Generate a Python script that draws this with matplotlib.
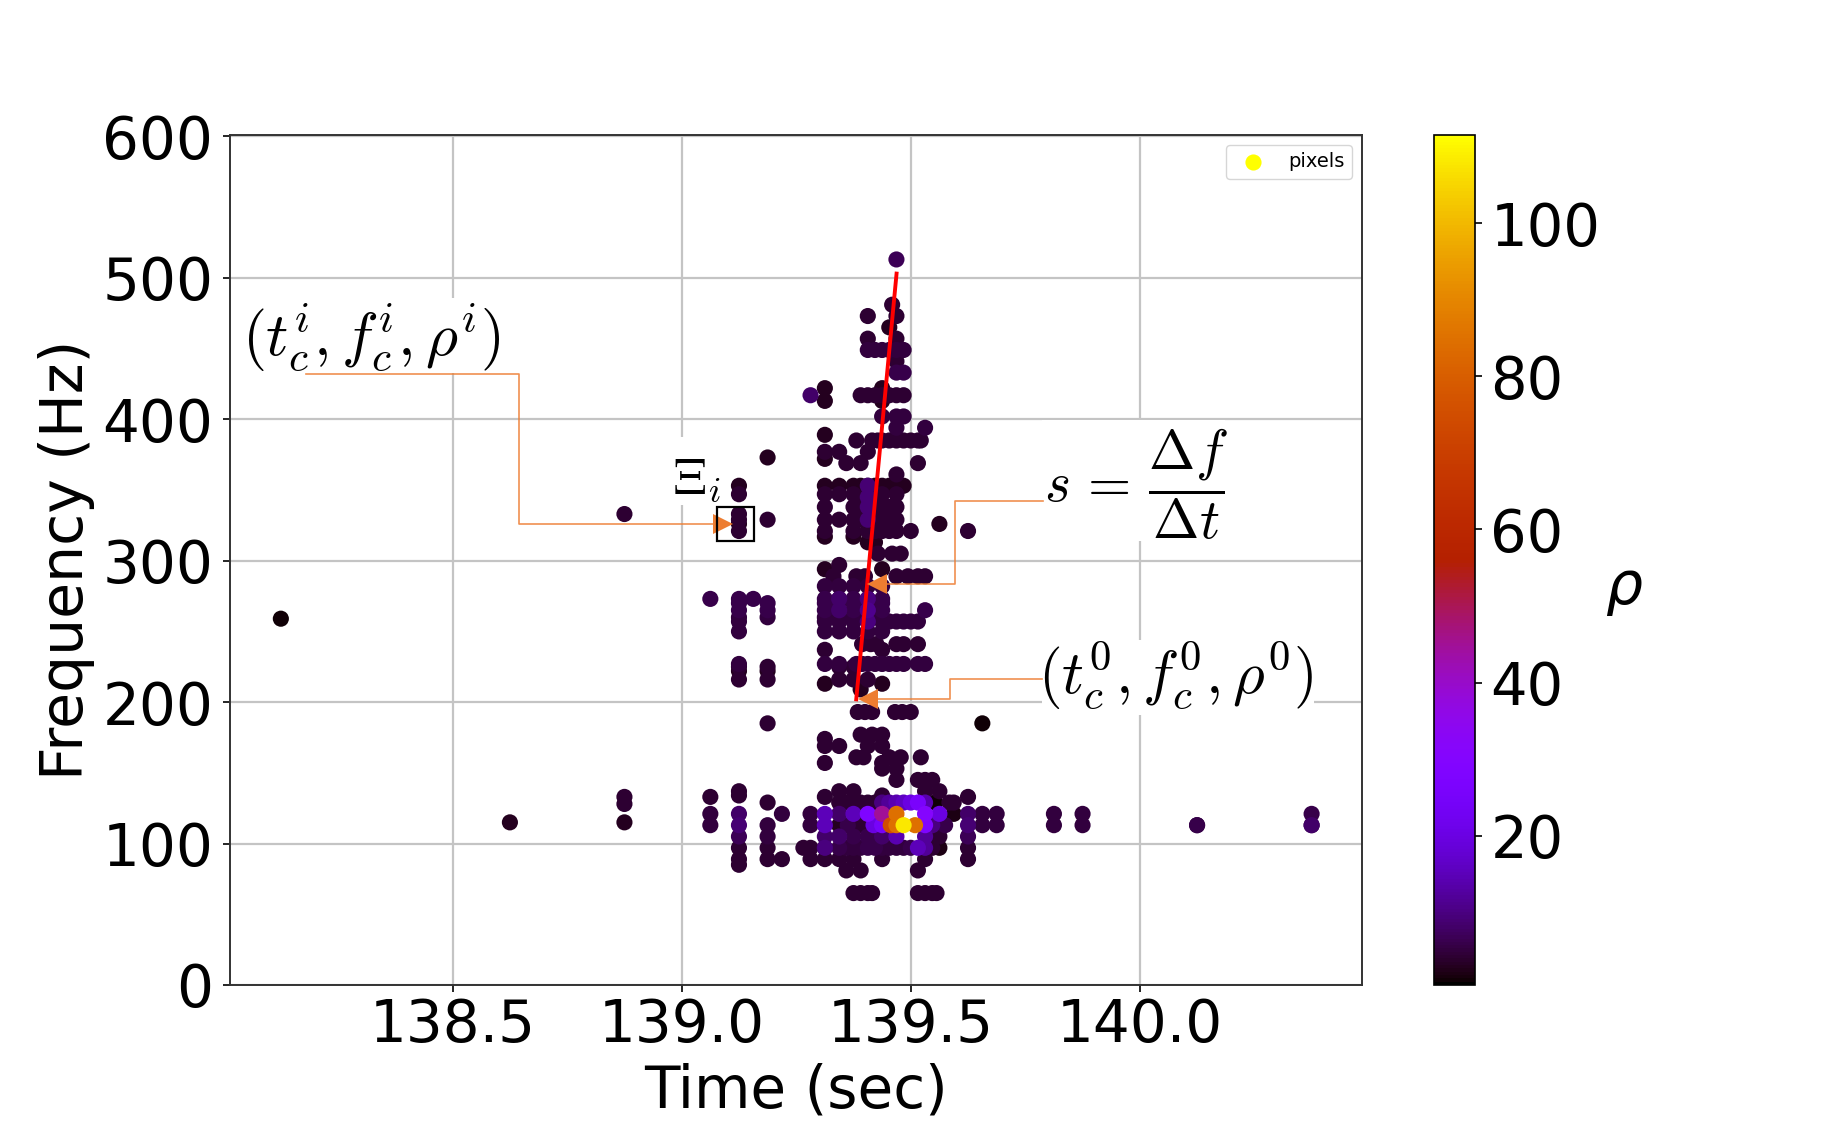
"""Time-frequency pixels with slope annotations"""
import numpy as np
import matplotlib
matplotlib.use("Agg")
import matplotlib.pyplot as plt
from matplotlib.patches import Polygon, Rectangle

plt.rcParams['mathtext.fontset'] = 'cm'

W, H = 1828, 1125

# time bins are 1/32 s wide, counted from 139.0 s
T_REF = 139.0
BIN = 32.0

# one entry per frequency row: frequency [Hz], time bins in that row, rho
freq_upper = [513, 481, 473, 465, 457, 449, 441, 433, 422, 417, 417, 413, 402,
              394, 389, 385, 377, 373, 372, 369, 361]
bins_upper = [[15], [14.7], [13, 15], [14.5], [13, 15],
              [13, 13.5, 14, 14.5, 15, 15.5], [15], [15, 15.5], [10, 14], [9],
              [12.5, 13, 13.5, 14, 14.5, 15, 15.5], [10, 14], [14, 15, 15.5],
              [15, 17], [10],
              [12.2, 13.3, 13.7, 14, 14.5, 15, 15.5, 16, 16.5, 16.7],
              [10, 11, 13], [6], [10], [11.5, 12.5, 16.5], [15]]
rho_upper = [7, 4, 4, 3, 4, 5, 4, 6, 3, 8, 4, 3, 5, 5, 3, 4, 4, 3, 3, 4, 4]

freq_mid = [353, 347, 338, 333, 329, 326, 321, 317, 313, 305, 297, 294, 289,
            282, 273, 270, 265, 260, 257, 250, 241, 237, 227, 225, 222, 216,
            213, 209, 193, 185]
bins_mid = [[4, 10, 11, 12, 12.5, 13, 13.5, 14, 14.5, 15, 15.5],
            [4, 10, 11, 12, 13, 14, 15],
            [10, 12, 12.5, 13, 13.5, 14, 14.5, 15],
            [-4, 4], [4, 6, 10, 11, 12, 12.5, 13, 13.5, 14, 14.5, 15], [4, 18],
            [4, 10, 12, 13, 13.5, 14, 14.5, 15, 16, 20], [10, 12], [13, 13.5],
            [13.7, 14.7, 15.3], [11], [10, 14],
            [10.6, 12.2, 12.8, 15, 15.8, 16.5, 17],
            [10, 11, 12, 13, 14], [2, 4, 5, 10, 11, 12, 13, 14],
            [4, 6, 10, 11, 12, 13, 14], [4, 6, 10, 11, 12, 13, 14, 17],
            [4, 6, 10, 11, 12, 13, 14],
            [4, 10, 11, 12, 13, 14, 14.5, 15, 15.5, 16, 16.5],
            [4, 10, 11, 12, 13, 14], [12.6, 13.2, 13.6, 15, 15.5, 16.5], [10, 14],
            [4, 10, 11, 12.2, 12.6, 13, 13.5, 14, 14.5, 15, 15.5, 16.5, 17],
            [4, 6, 11, 12], [4, 6], [4, 6, 11, 12, 13], [10, 14], [12.5],
            [12.3, 12.8, 13.3, 14.9, 15.4, 16],
            [6]]
rho_mid = [3, 4, 4, 4, 4, 3, 4, 3, 3, 4, 4, 3, 4, 5, 6, 6, 6, 5, 5, 5, 4,
           4, 5, 4, 3, 4, 3, 3, 4, 4]

freq_low = [185, 177, 174, 169, 161, 157, 153, 145, 137, 134, 133, 129, 128,
            121, 115, 113, 105, 97, 89, 85, 81, 65]
bins_low = [[21], [12.5, 13.3, 14], [10], [10, 11, 13, 14],
            [12.2, 12.7, 14.5, 15.3, 16.7], [10, 14], [14, 15], [15, 16.5, 17, 17.5],
            [4, 11, 12, 17, 18], [4, 14], [-4, 2, 10, 20],
            [6, 11, 11.5, 12, 12.5, 13, 13.5, 18.7, 19],
            [-4], [2, 7, 9, 21, 22, 26, 28], [-4, -12],
            [2, 6, 9, 21, 22, 26, 28, 36, 44], [6],
            [4, 6, 8.5, 9, 10, 20], [4, 6, 7, 9, 10, 11, 12, 14, 17, 20],
            [4], [11.5, 12.5, 16.5], [12, 12.5, 13, 13.3, 16.5, 17, 17.5, 17.8]]
rho_low = [1, 4, 4, 4, 4, 4, 4, 4, 4, 4, 4, 4, 4, 5, 3, 5, 5, 4, 4, 4, 4, 4]

# isolated pixels far from the cluster
t_far = [138.125, 140.125, 140.375, 140.375]
f_far = [259, 113, 121, 113]
rho_far = [1, 6, 6, 8]

# purple tinted pixels inside the track and the two side columns
bins_tint = [11, 11, 13, 13, 13, 13, 13, 13, 13, 4, 4, 20, 20, 20]
f_tint = [273, 265, 273, 265, 257, 353, 345, 338, 329, 121, 105, 121, 113, 105]
rho_tint = [8, 8, 10, 11, 10, 9, 9, 9, 9, 8, 7, 8, 9, 7]

# the loud core around 113 Hz, row by row
bins_core = [14, 14.5, 15, 15.5, 16, 16.5, 17, 17.7,
             10, 11, 12, 13, 14, 15, 17, 18, 19,
             4, 10, 11, 11.6, 12.5, 13.4, 14, 14.6, 15, 15.5, 16.3, 17, 17.5, 18.4,
             10, 11, 12, 13, 14, 15, 17, 18,
             10, 11, 11.5, 12, 12.5, 13, 13.5, 14, 14.5, 15, 15.5, 16, 16.5, 17, 17.5, 18]
f_core = [129, 129, 129, 129, 129, 129, 129, 129,
          121, 121, 121, 121, 121, 121, 121, 121, 121,
          113, 113, 113, 113, 113, 113, 113, 113, 113, 113, 113, 113, 113, 113,
          105, 105, 105, 105, 105, 105, 105, 105,
          97, 97, 97, 97, 97, 97, 97, 97, 97, 97, 97, 97, 97, 97, 97, 97]
rho_core = [10, 12, 14, 16, 20, 26, 14, 1,
            15, 8, 15, 28, 45, 85, 30, 20, 2,
            9, 15, 3, 6, 4, 20, 25, 75, 85, 108, 85, 28, 10, 6,
            8, 8, 6, 6, 8, 14, 12, 4,
            10, 6, 5, 5, 5, 6, 6, 5, 5, 5, 5, 6, 15, 12, 4, 2]

# straight fit through the track
fit_t = [139.381, 139.469]
fit_f = [202, 503]


def flatten(freqs, bins, rhos):
    ts, fs, rs = [], [], []
    for f, b, r in zip(freqs, bins, rhos):
        for x in b:
            ts.append(T_REF + x / BIN)
            fs.append(f)
            rs.append(r)
    return ts, fs, rs


def px(x0, y0, x1, y1):
    return [x0 / W, 1 - y1 / H, (x1 - x0) / W, (y1 - y0) / H]


t1, f1, r1 = flatten(freq_upper, bins_upper, rho_upper)
t2, f2, r2 = flatten(freq_mid, bins_mid, rho_mid)
t3, f3, r3 = flatten(freq_low, bins_low, rho_low)
t_tint = [T_REF + x / BIN for x in bins_tint]
t_core = [T_REF + x / BIN for x in bins_core]
t_all = np.array(t1 + t2 + t3 + t_far + t_tint + t_core)
f_all = np.array(f1 + f2 + f3 + f_far + f_tint + f_core)
r_all = np.array(r1 + r2 + r3 + rho_far + rho_tint + rho_core)
order = np.argsort(r_all)

fig = plt.figure(figsize=(W / 100, H / 100), dpi=100)
ax = fig.add_axes(px(230, 135, 1362, 985))
sc = ax.scatter(t_all[order], f_all[order], c=r_all[order], s=135, cmap='gnuplot',
                vmin=0.5, vmax=111.5, linewidths=0, zorder=3, label='pixels')
ax.set_xlim(138.014, 140.485)
ax.set_ylim(0, 601)
ax.set_xticks([138.5, 139.0, 139.5, 140.0])
ax.set_xticklabels(['138.5', '139.0', '139.5', '140.0'])
ax.set_yticks([0, 100, 200, 300, 400, 500, 600])
ax.tick_params(labelsize=41.8, length=5, width=1.2)
ax.tick_params(axis='y', pad=7)
ax.grid(True, color='#c4c4c4', linewidth=1.6, zorder=0)
ax.set_axisbelow(True)
ax.set_xlabel('Time (sec)', fontsize=41.8, labelpad=6)
ax.set_ylabel('Frequency (Hz)', fontsize=42, labelpad=5.5)
for s in ax.spines.values():
    s.set_linewidth(1.4)
    s.set_color('#333333')
# bleached spot next to the peak
ax.add_patch(Rectangle((139.485, 101), 0.03, 24, fc='white', ec='none', zorder=2))
leg = ax.legend(loc='upper right', fontsize=14, borderaxespad=0.5)
for h in leg.legend_handles:
    h.set_array(None)
    h.set_facecolor('yellow')

cax = fig.add_axes(px(1434, 135, 1475, 985))
cb = fig.colorbar(sc, cax=cax)
cb.set_ticks([20, 40, 60, 80, 100])
cb.ax.tick_params(labelsize=41.5, length=5, width=1.2, pad=6)
cb.outline.set_linewidth(1.2)
fig.text(1624 / W, 1 - 590 / H, r'$\rho$', fontsize=42, ha='center', va='center',
         math_fontfamily='dejavusans')

# pasted annotation layer, in image pixels
ov = fig.add_axes([0, 0, 1, 1], facecolor='none')
ov.set_xlim(0, W)
ov.set_ylim(H, 0)
ov.axis('off')
for x0, y0, x1, y1 in [(245, 298, 501, 373), (673, 437, 719, 505),
                       (1042, 420, 1225, 541), (1042, 640, 1314, 715)]:
    ov.add_patch(Rectangle((x0, y0), x1 - x0, y1 - y0, fc='white', ec='none', zorder=1))

ORANGE = '#ED7D31'
paths = [([306, 519, 519, 713], [374, 374, 524, 524], 733, 524),
         ([1043, 955, 955, 887], [501, 501, 584, 584], 867, 584),
         ([1042, 950, 950, 878], [679, 679, 699, 699], 858, 699)]
for xs, ys, tip_x, tip_y in paths:
    ov.plot(xs, ys, color=ORANGE, lw=1.2, alpha=0.85, zorder=5)
    base = xs[-1]
    ov.add_patch(Polygon([(tip_x, tip_y), (base, tip_y - 10), (base, tip_y + 10)],
                         fc=ORANGE, ec='none', zorder=6))
ov.add_patch(Rectangle((717, 507), 37, 34, fc='none', ec='black', lw=1.6, zorder=6))

ov.text(371, 338, r'$(t_c^i, f_c^i, \rho^i)$', fontsize=44.5, ha='center', va='center', zorder=4)
ov.text(697, 480, r'$\Xi_i$', fontsize=37, ha='center', va='center', zorder=4)
ov.text(1136, 484, r'$s\,=\,\dfrac{\Delta f}{\Delta t}$', fontsize=40, ha='center', va='center', zorder=4)
ov.text(1176, 676, r'$(t_c^0, f_c^0, \rho^0)$', fontsize=44, ha='center', va='center', zorder=4)

# red fit drawn through the main axes scale
ax.plot(fit_t, fit_f, color='red', lw=2.8, zorder=4)

fig.savefig('out.png', dpi=100)
